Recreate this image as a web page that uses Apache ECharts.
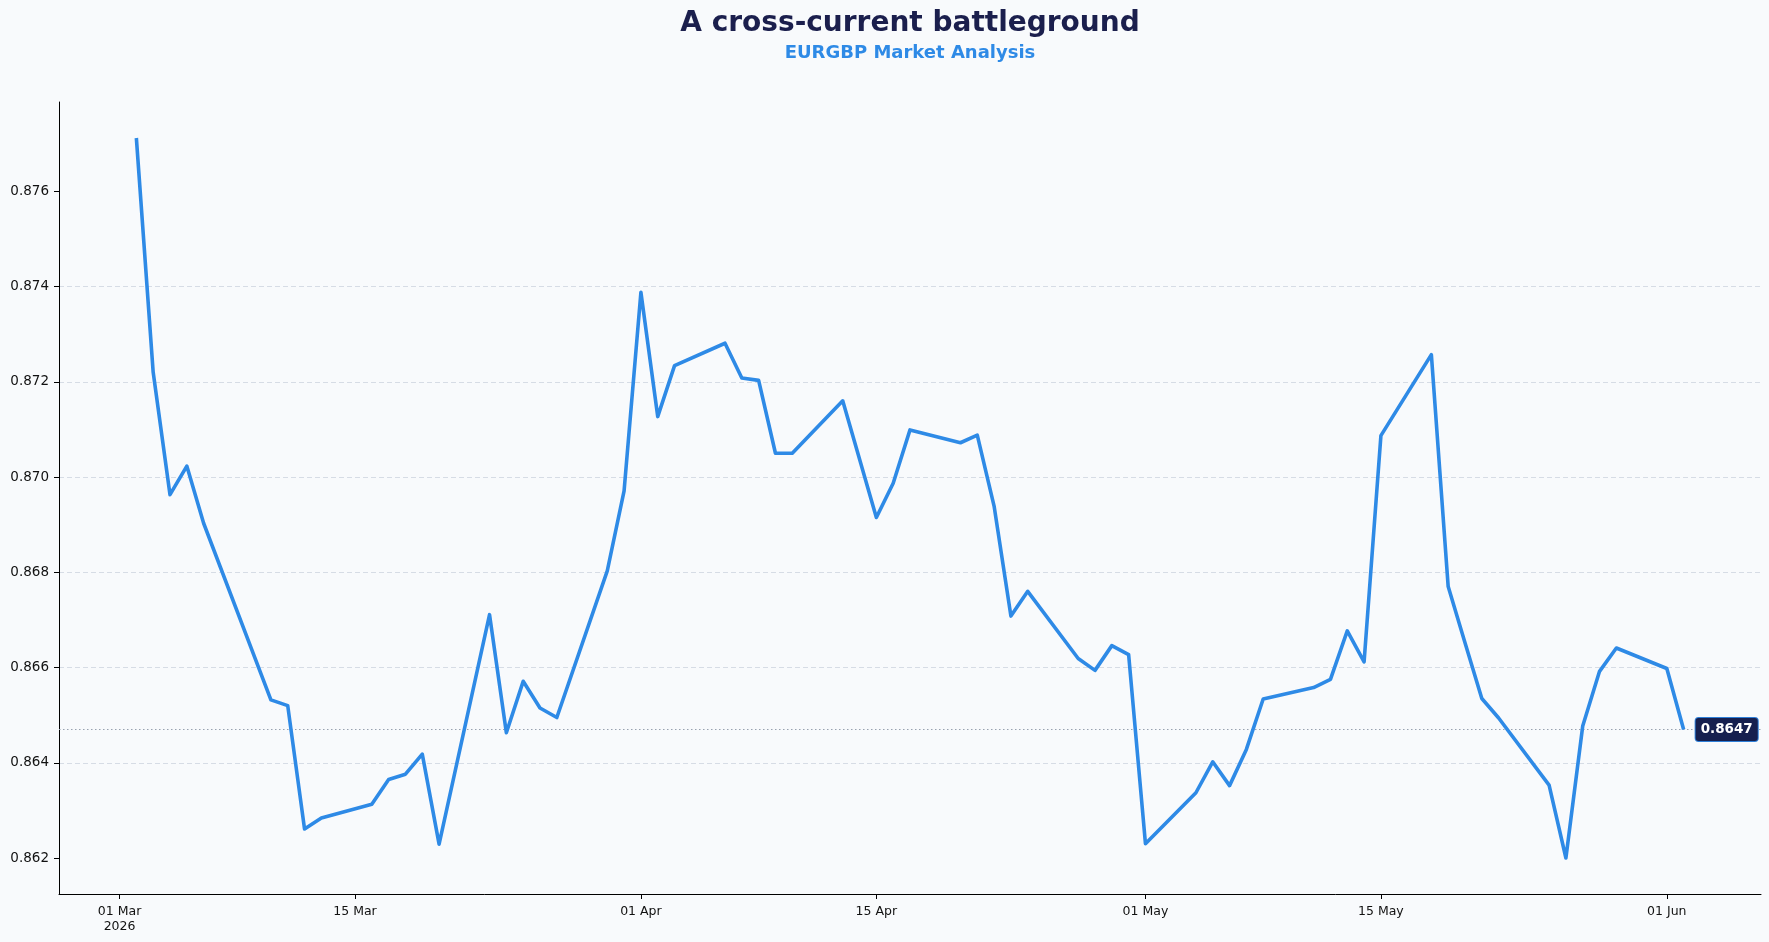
<!DOCTYPE html>
<html>
<head>
<meta charset="utf-8">
<script src="https://cdn.jsdelivr.net/npm/echarts@6/dist/echarts.min.js"></script>
<style>
  html, body { margin: 0; padding: 0; background: #f8fafc; }
  #chart { width: 1769px; height: 942px; }
</style>
</head>
<body>
<div id="chart"></div>
<script>
// EURGBP closes (business days, a couple of days missing in the source)
const dates = [
    '2026-03-02', '2026-03-03', '2026-03-04', '2026-03-05', '2026-03-06',
    '2026-03-10', '2026-03-11', '2026-03-12', '2026-03-13',
    '2026-03-16', '2026-03-17', '2026-03-18', '2026-03-19', '2026-03-20',
    '2026-03-23', '2026-03-24', '2026-03-25', '2026-03-26', '2026-03-27',
    '2026-03-30', '2026-03-31', '2026-04-01', '2026-04-02', '2026-04-03',
    '2026-04-06', '2026-04-07', '2026-04-08', '2026-04-09', '2026-04-10',
    '2026-04-13', '2026-04-15', '2026-04-16', '2026-04-17',
    '2026-04-20', '2026-04-21', '2026-04-22', '2026-04-23', '2026-04-24',
    '2026-04-27', '2026-04-28', '2026-04-29', '2026-04-30', '2026-05-01',
    '2026-05-04', '2026-05-05', '2026-05-06', '2026-05-07', '2026-05-08',
    '2026-05-11', '2026-05-12', '2026-05-13', '2026-05-14', '2026-05-15',
    '2026-05-18', '2026-05-19', '2026-05-20', '2026-05-21', '2026-05-22',
    '2026-05-25', '2026-05-26', '2026-05-27', '2026-05-28', '2026-05-29',
    '2026-06-01', '2026-06-02'
]
const closes = [
    0.87712, 0.87220, 0.86963, 0.87023, 0.86903,
    0.86532, 0.86520, 0.86261, 0.86284,
    0.86313, 0.86365, 0.86376, 0.86418, 0.86229,
    0.86711, 0.86463, 0.86571, 0.86515, 0.86495,
    0.86803, 0.86971, 0.87388, 0.87127, 0.87234,
    0.87281, 0.87208, 0.87203, 0.87050, 0.87050,
    0.87160, 0.86915, 0.86987, 0.87099,
    0.87072, 0.87088, 0.86939, 0.86708, 0.86760,
    0.86619, 0.86594, 0.86646, 0.86627, 0.86230,
    0.86337, 0.86402, 0.86352, 0.86428, 0.86534,
    0.86558, 0.86575, 0.86677, 0.86612, 0.87087,
    0.87257, 0.86770, 0.86652, 0.86535, 0.86494,
    0.86353, 0.86200, 0.86477, 0.86592, 0.86641,
    0.86598, 0.86470
]
const xTicks = ['2026-03-01', '2026-03-15', '2026-04-01', '2026-04-15', '2026-05-01', '2026-05-15', '2026-06-01']
const yTicks = [0.862, 0.864, 0.866, 0.868, 0.870, 0.872, 0.874, 0.876]
const MONTHS = ['Jan', 'Feb', 'Mar', 'Apr', 'May', 'Jun', 'Jul', 'Aug', 'Sep', 'Oct', 'Nov', 'Dec']

const toTs = s => {
    const p = s.split('-').map(Number)
    return Date.UTC(p[0], p[1] - 1, p[2])
}

window.onload = () => {
    const chart = echarts.init(document.getElementById('chart'), null, { renderer: 'canvas' })
    const FONT = 'DejaVu Sans'

    const seriesData = dates.map((d, i) => [toTs(d), closes[i]])
    const xTickTs = xTicks.map(toTs)

    // matplotlib-like 5% margins
    const t0 = seriesData[0][0], t1 = seriesData[seriesData.length - 1][0]
    const xPad = (t1 - t0) * 0.05
    const xMin = t0 - xPad, xMax = t1 + xPad
    const vMin = Math.min(...closes), vMax = Math.max(...closes)
    const yPad = (vMax - vMin) * 0.05
    const last = closes[closes.length - 1]

    const gridLeft = 59, gridRight = 8
    const titleX = gridLeft + (1769 - gridLeft - gridRight) / 2

    const option = {
        backgroundColor: '#f8fafc',
        animation: false,
        title: {
            text: 'A cross-current battleground',
            subtext: 'EURGBP Market Analysis',
            left: titleX,
            textAlign: 'center',
            top: 10,
            padding: 0,
            itemGap: 6,
            textStyle: {
                fontFamily: FONT,
                fontSize: 28,
                fontWeight: 'bold',
                color: '#1b1f4d'
            },
            subtextStyle: {
                fontFamily: FONT,
                fontSize: 18,
                fontWeight: 'bold',
                color: '#2e8ae6'
            }
        },
        grid: {
            left: gridLeft,
            right: gridRight,
            top: 102,
            bottom: 48,
            containLabel: false
        },
        // dates kept as UTC timestamps on a plain value axis, ticks placed on the fixed dates
        xAxis: {
            type: 'value',
            min: xMin,
            max: xMax,
            axisLine: { lineStyle: { color: '#000', width: 1 } },
            axisTick: {
                customValues: xTickTs,
                length: 5,
                lineStyle: { color: '#000' }
            },
            axisLabel: {
                customValues: xTickTs,
                margin: 10,
                fontFamily: FONT,
                fontSize: 12.5,
                color: '#111',
                lineHeight: 15,
                align: 'center',
                formatter: v => {
                    const d = new Date(v)
                    const dd = String(d.getUTCDate()).padStart(2, '0')
                    let s = dd + ' ' + MONTHS[d.getUTCMonth()]
                    if (v === xTickTs[0]) s += '\n' + d.getUTCFullYear()
                    return s
                }
            },
            splitLine: { show: false }
        },
        yAxis: {
            type: 'value',
            min: vMin - yPad,
            max: vMax + yPad,
            splitNumber: 8,
            axisLine: { show: true, lineStyle: { color: '#000', width: 1 } },
            axisTick: {
                show: true,
                customValues: yTicks,
                length: 5,
                lineStyle: { color: '#000' }
            },
            axisLabel: {
                customValues: yTicks,
                margin: 10,
                fontFamily: FONT,
                fontSize: 13.5,
                color: '#111',
                formatter: v => v.toFixed(3)
            },
            splitLine: {
                show: true,
                showMinLine: false,
                showMaxLine: false,
                lineStyle: { color: '#cdd4de', width: 0.8, type: [5, 3] }
            }
        },
        series: [{
            name: 'EURGBP',
            type: 'line',
            data: seriesData,
            showSymbol: false,
            symbol: 'none',
            z: 3,
            lineStyle: { color: '#2e8ae6', width: 3.6, join: 'round' },
            endLabel: {
                show: true,
                distance: 12,
                formatter: p => p.value[1].toFixed(4),
                fontFamily: FONT,
                fontSize: 13.5,
                fontWeight: 'bold',
                color: '#fff',
                backgroundColor: '#16204f',
                borderColor: '#2e7fd8',
                borderWidth: 1,
                borderRadius: 3,
                padding: [5, 5, 4, 5]
            },
            // last close reference line across the whole plot
            markLine: {
                silent: true,
                symbol: ['none', 'none'],
                z: 2,
                label: { show: false },
                emphasis: { disabled: true },
                lineStyle: { color: '#98a2b0', width: 1, type: [1.5, 2.5] },
                data: [[{ coord: [xMin, last] }, { coord: [xMax, last] }]]
            }
        }]
    }
    chart.setOption(option)
}
</script>
</body>
</html>
